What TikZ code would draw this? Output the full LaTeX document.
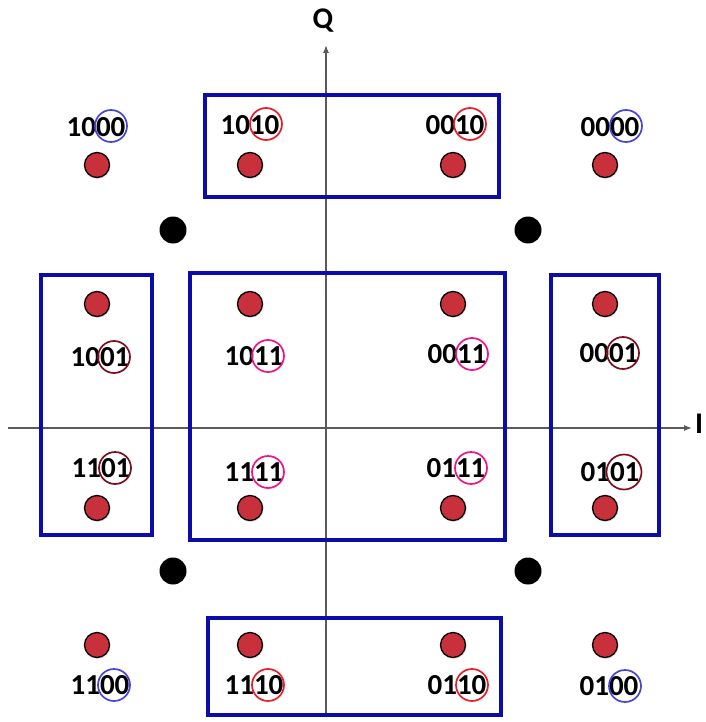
\documentclass[tikz,border=0pt]{standalone}
\usepackage{fontspec}
\setmainfont{Carlito}
\usetikzlibrary{arrows.meta,shadows}
\definecolor{dotred}{RGB}{200,48,60}
\definecolor{boxblue}{RGB}{12,12,170}
\definecolor{ringblue}{RGB}{70,70,215}
\definecolor{ringred}{RGB}{235,30,40}
\definecolor{ringdark}{RGB}{125,15,30}
\definecolor{ringpink}{RGB}{240,20,140}
\definecolor{axisgray}{RGB}{90,90,90}
\begin{document}
\begin{tikzpicture}[x=1pt,y=-1pt,
  reddot/.style={circle,draw=black,line width=1.3pt,fill=dotred,minimum size=25pt,inner sep=0pt,
    drop shadow={opacity=0.18,shadow xshift=1pt,shadow yshift=-1.5pt}},
  blackdot/.style={circle,fill=black,minimum size=27pt,inner sep=0pt},
  lbl/.style={font=\fontsize{29}{29}\selectfont\bfseries,inner sep=0pt},
  ring/.style={circle,line width=1.7pt,minimum size=32pt,inner sep=0pt},
  groupbox/.style={draw=boxblue,line width=3.2pt},
  axis/.style={draw=axisgray,line width=1.2pt,-{Latex[length=8pt,width=6pt]}}]
\useasboundingbox (0,0) rectangle (705,722);

% axes
\coordinate (ileft) at (8,428);
\coordinate (iright) at (692,428);
\coordinate (qbottom) at (326,716);
\coordinate (qtop) at (326,45);
\draw[axis] (ileft) -- (iright);
\draw[axis] (qbottom) -- (qtop);
\node[font=\fontsize{30}{30}\selectfont\bfseries,inner sep=0pt] (qlabel) at (323,21) {Q};
\node[font=\fontsize{30}{30}\selectfont\bfseries,inner sep=0pt,anchor=west] (ilabel) at (695,424) {I};

% grouping boxes
\draw[groupbox] (205,95) rectangle (499,197);
\draw[groupbox] (41,275) rectangle (152,535);
\draw[groupbox] (190,273) rectangle (505,540);
\draw[groupbox] (551,275) rectangle (659,535);
\draw[groupbox] (208,618) rectangle (501,715);

% black reference points
\node[blackdot] (b1) at (173,230) {};
\node[blackdot] (b2) at (528,230) {};
\node[blackdot] (b3) at (173,571) {};
\node[blackdot] (b4) at (528,571) {};

% constellation points
\node[reddot] (p1000) at (97,165) {};
\node[reddot] (p1010) at (250,165) {};
\node[reddot] (p0010) at (453,165) {};
\node[reddot] (p0000) at (605,165) {};
\node[reddot] (p1001) at (97,304) {};
\node[reddot] (p1011) at (250,304) {};
\node[reddot] (p0011) at (453,304) {};
\node[reddot] (p0001) at (605,304) {};
\node[reddot] (p1101) at (97,508) {};
\node[reddot] (p1111) at (250,508) {};
\node[reddot] (p0111) at (453,508) {};
\node[reddot] (p0101) at (605,508) {};
\node[reddot] (p1100) at (97,645) {};
\node[reddot] (p1110) at (250,645) {};
\node[reddot] (p0110) at (453,645) {};
\node[reddot] (p0100) at (605,645) {};

% bit labels
\node[lbl] (t1000) at (96,127) {1000};
\node[lbl] (t1010) at (250,125) {1010};
\node[lbl] (t0010) at (455,125) {0010};
\node[lbl] (t0000) at (610,127) {0000};
\node[lbl] (t1001) at (100,357) {1001};
\node[lbl] (t1011) at (254,356) {1011};
\node[lbl] (t0011) at (457,354) {0011};
\node[lbl] (t0001) at (609,353) {0001};
\node[lbl] (t1101) at (101,468) {1101};
\node[lbl] (t1111) at (254,472) {1111};
\node[lbl] (t0111) at (456,468) {0111};
\node[lbl] (t0101) at (610,472) {0101};
\node[lbl] (t1100) at (100,685) {1100};
\node[lbl] (t1110) at (254,685) {1110};
\node[lbl] (t0110) at (457,685) {0110};
\node[lbl] (t0100) at (609,686) {0100};

% rings around the last two bits
\node[ring,draw=ringblue] (r1000) at (111,126) {};
\node[ring,draw=ringred] (r1010) at (266,124) {};
\node[ring,draw=ringred] (r0010) at (470,124) {};
\node[ring,draw=ringblue] (r0000) at (626,126) {};
\node[ring,draw=ringdark] (r1001) at (114,357) {};
\node[ring,draw=ringpink] (r1011) at (268,356) {};
\node[ring,draw=ringpink] (r0011) at (472,354) {};
\node[ring,draw=ringdark] (r0001) at (623,353) {};
\node[ring,draw=ringdark] (r1101) at (115,468) {};
\node[ring,draw=ringpink] (r1111) at (268,472) {};
\node[ring,draw=ringpink] (r0111) at (471,468) {};
\node[ring,draw=ringdark,minimum size=35pt] (r0101) at (624,472) {};
\node[ring,draw=ringblue] (r1100) at (114,685) {};
\node[ring,draw=ringred] (r1110) at (268,685) {};
\node[ring,draw=ringred] (r0110) at (472,685) {};
\node[ring,draw=ringblue] (r0100) at (625,686) {};
\end{tikzpicture}
\end{document}
